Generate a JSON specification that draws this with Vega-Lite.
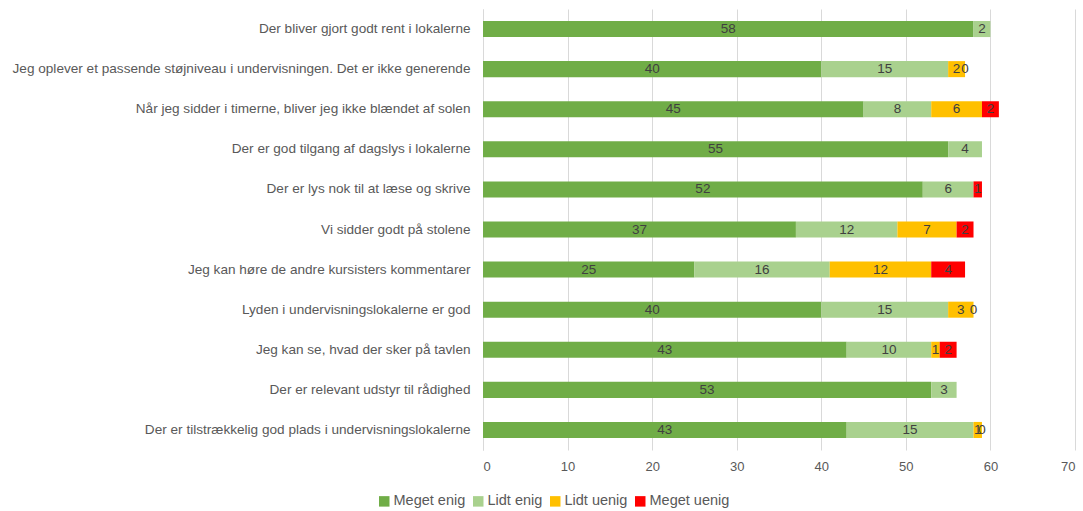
{
  "$schema": "https://vega.github.io/schema/vega-lite/v6.json",
  "width": 592,
  "height": 441,
  "autosize": "none",
  "padding": {"left": 483, "top": 9, "right": 8, "bottom": 61},
  "background": "white",
  "data": {
    "values": [
      {"q": "Der bliver gjort godt rent i lokalerne", "s": "Meget enig", "o": 1, "v": 58},
      {"q": "Der bliver gjort godt rent i lokalerne", "s": "Lidt enig", "o": 2, "v": 2},
      {"q": "Jeg oplever et passende støjniveau i undervisningen. Det er ikke generende", "s": "Meget enig", "o": 1, "v": 40},
      {"q": "Jeg oplever et passende støjniveau i undervisningen. Det er ikke generende", "s": "Lidt enig", "o": 2, "v": 15},
      {"q": "Jeg oplever et passende støjniveau i undervisningen. Det er ikke generende", "s": "Lidt uenig", "o": 3, "v": 2},
      {"q": "Jeg oplever et passende støjniveau i undervisningen. Det er ikke generende", "s": "Meget uenig", "o": 4, "v": 0},
      {"q": "Når jeg sidder i timerne, bliver jeg ikke blændet af solen", "s": "Meget enig", "o": 1, "v": 45},
      {"q": "Når jeg sidder i timerne, bliver jeg ikke blændet af solen", "s": "Lidt enig", "o": 2, "v": 8},
      {"q": "Når jeg sidder i timerne, bliver jeg ikke blændet af solen", "s": "Lidt uenig", "o": 3, "v": 6},
      {"q": "Når jeg sidder i timerne, bliver jeg ikke blændet af solen", "s": "Meget uenig", "o": 4, "v": 2},
      {"q": "Der er god tilgang af dagslys i lokalerne", "s": "Meget enig", "o": 1, "v": 55},
      {"q": "Der er god tilgang af dagslys i lokalerne", "s": "Lidt enig", "o": 2, "v": 4},
      {"q": "Der er lys nok til at læse og skrive", "s": "Meget enig", "o": 1, "v": 52},
      {"q": "Der er lys nok til at læse og skrive", "s": "Lidt enig", "o": 2, "v": 6},
      {"q": "Der er lys nok til at læse og skrive", "s": "Meget uenig", "o": 4, "v": 1},
      {"q": "Vi sidder godt på stolene", "s": "Meget enig", "o": 1, "v": 37},
      {"q": "Vi sidder godt på stolene", "s": "Lidt enig", "o": 2, "v": 12},
      {"q": "Vi sidder godt på stolene", "s": "Lidt uenig", "o": 3, "v": 7},
      {"q": "Vi sidder godt på stolene", "s": "Meget uenig", "o": 4, "v": 2},
      {"q": "Jeg kan høre de andre kursisters kommentarer", "s": "Meget enig", "o": 1, "v": 25},
      {"q": "Jeg kan høre de andre kursisters kommentarer", "s": "Lidt enig", "o": 2, "v": 16},
      {"q": "Jeg kan høre de andre kursisters kommentarer", "s": "Lidt uenig", "o": 3, "v": 12},
      {"q": "Jeg kan høre de andre kursisters kommentarer", "s": "Meget uenig", "o": 4, "v": 4},
      {"q": "Lyden i undervisningslokalerne er god", "s": "Meget enig", "o": 1, "v": 40},
      {"q": "Lyden i undervisningslokalerne er god", "s": "Lidt enig", "o": 2, "v": 15},
      {"q": "Lyden i undervisningslokalerne er god", "s": "Lidt uenig", "o": 3, "v": 3},
      {"q": "Lyden i undervisningslokalerne er god", "s": "Meget uenig", "o": 4, "v": 0},
      {"q": "Jeg kan se, hvad der sker på tavlen", "s": "Meget enig", "o": 1, "v": 43},
      {"q": "Jeg kan se, hvad der sker på tavlen", "s": "Lidt enig", "o": 2, "v": 10},
      {"q": "Jeg kan se, hvad der sker på tavlen", "s": "Lidt uenig", "o": 3, "v": 1},
      {"q": "Jeg kan se, hvad der sker på tavlen", "s": "Meget uenig", "o": 4, "v": 2},
      {"q": "Der er relevant udstyr til rådighed", "s": "Meget enig", "o": 1, "v": 53},
      {"q": "Der er relevant udstyr til rådighed", "s": "Lidt enig", "o": 2, "v": 3},
      {"q": "Der er tilstrækkelig god plads i undervisningslokalerne", "s": "Meget enig", "o": 1, "v": 43},
      {"q": "Der er tilstrækkelig god plads i undervisningslokalerne", "s": "Lidt enig", "o": 2, "v": 15},
      {"q": "Der er tilstrækkelig god plads i undervisningslokalerne", "s": "Lidt uenig", "o": 3, "v": 1},
      {"q": "Der er tilstrækkelig god plads i undervisningslokalerne", "s": "Meget uenig", "o": 4, "v": 0}
    ]
  },
  "transform": [
    {"stack": "v", "groupby": ["q"], "sort": [{"field": "o", "order": "ascending"}], "as": ["x0", "x1"]},
    {"calculate": "(datum.x0 + datum.x1) / 2", "as": "xm"}
  ],
  "encoding": {
    "y": {
      "field": "q", "type": "nominal", "sort": null, "title": null,
      "scale": {"paddingInner": 0.6, "paddingOuter": 0.3},
      "axis": {
        "ticks": false, "domain": true, "domainColor": "#d9d9d9", "labelPadding": 13,
        "labelFont": "Liberation Sans", "labelFontSize": 13.6, "labelColor": "#595959",
        "labelLimit": 600
      }
    }
  },
  "layer": [
    {
      "mark": {"type": "bar"},
      "encoding": {
        "x": {
          "field": "x0", "type": "quantitative",
          "scale": {"domain": [0, 70], "nice": false},
          "axis": {
            "values": [0, 10, 20, 30, 40, 50, 60, 70], "title": null, "ticks": false, "domain": false,
            "grid": true, "gridColor": "#d9d9d9", "labelFont": "Liberation Sans", "labelFontSize": 13,
            "labelColor": "#595959", "labelPadding": 10
          }
        },
        "x2": {"field": "x1"},
        "color": {
          "field": "s", "type": "nominal", "title": null,
          "scale": {
            "domain": ["Meget enig", "Lidt enig", "Lidt uenig", "Meget uenig"],
            "range": ["#70AD47", "#A9D18E", "#FFC000", "#FF0000"]
          },
          "legend": {
            "orient": "none", "legendX": -106, "legendY": 485, "direction": "horizontal",
            "columns": 4, "symbolType": "square", "symbolSize": 110, "symbolStrokeWidth": 0,
            "labelFont": "Liberation Sans", "labelFontSize": 14.5, "labelColor": "#595959",
            "columnPadding": 5, "labelOffset": 2
          }
        }
      }
    },
    {
      "mark": {"type": "text", "font": "Liberation Sans", "fontSize": 13.5, "color": "#404040", "baseline": "middle", "align": "center"},
      "encoding": {
        "x": {"field": "xm", "type": "quantitative"},
        "text": {"field": "v", "type": "quantitative"}
      }
    }
  ],
  "config": {"view": {"stroke": null}}
}
